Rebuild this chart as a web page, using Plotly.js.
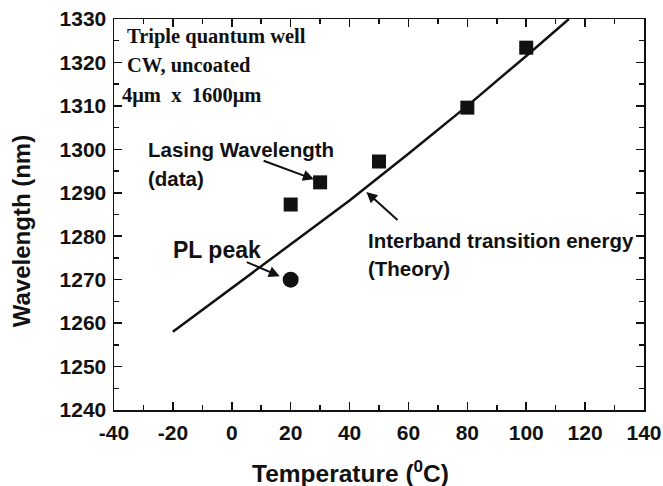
<!DOCTYPE html>
<html>
<head>
<meta charset="utf-8">
<script src="https://cdn.plot.ly/plotly-3.0.1.min.js"></script>
<style>html,body{margin:0;padding:0;background:#fff;}#chart{width:663px;height:486px;}</style>
</head>
<body>
<div id="chart"></div>
<script>
// Data
var lasingT = [20, 30, 50, 80, 100];
var lasingWL = [1287.3, 1292.4, 1297.2, 1309.6, 1323.4];
var plT = [20];
var plWL = [1270];
var theoryT = [-20, 0, 20, 40, 60, 80, 100, 114.5];
var theoryWL = [1258, 1268, 1278, 1288.2, 1299, 1310, 1321.5, 1330];
var xTickVals = [-40, -20, 0, 20, 40, 60, 80, 100, 120, 140];
var xTickText = ['-40', '-20', '0', '20', '40', '60', '80', '100', '120', '140'];
var yTickVals = [1240, 1250, 1260, 1270, 1280, 1290, 1300, 1310, 1320, 1330];

var sans = 'Liberation Sans, Arial, sans-serif';
var serif = 'Liberation Serif, Times New Roman, serif';

var traces = [
  {x: theoryT, y: theoryWL, mode: 'lines', line: {color: '#111', width: 2.5}, hoverinfo: 'skip', cliponaxis: true},
  {x: lasingT, y: lasingWL, mode: 'markers', marker: {symbol: 'square', size: 14, color: '#111'}},
  {x: plT, y: plWL, mode: 'markers', marker: {symbol: 'circle', size: 16, color: '#111'}}
];

function txt(x, y, t, size, fam) {
  return {x: x, y: y, xref: 'x', yref: 'y', text: t, showarrow: false, xanchor: 'left', yanchor: 'middle',
    font: {family: fam || sans, size: size || 20, color: '#111', weight: 'bold'}};
}
function arr(x0, y0, x1, y1) {
  return {x: x1, y: y1, ax: x0, ay: y0, xref: 'x', yref: 'y', axref: 'x', ayref: 'y', text: '',
    showarrow: true, arrowhead: 2, arrowsize: 1.1, arrowwidth: 2, arrowcolor: '#111', standoff: 0};
}

var annotations = [
  txt(-36.3, 1325.9, 'Triple quantum well', 20.5, serif),
  txt(-36.3, 1319.3, 'CW, uncoated', 20.5, serif),
  txt(-38.0, 1312.4, '4\u03bcm  x  1600\u03bcm', 20.5, serif),
  txt(-29.2, 1299.9, 'Lasing Wavelength', 20.5),
  txt(-29.2, 1293.3, '(data)', 20.5),
  txt(-20.8, 1276.8, 'PL peak', 23),
  txt(45.5, 1279.1, 'Interband transition energy', 20.5),
  txt(45.5, 1272.6, '(Theory)', 20.5),
  arr(10.3, 1297.5, 27.9, 1293.1),
  arr(56.8, 1283.4, 45.7, 1290.2),
  arr(4.6, 1274.2, 16.3, 1270.8),
  {x: 0.4466, y: -0.157, xref: 'paper', yref: 'paper', text: 'Temperature (<sup>0</sup>C)', showarrow: false,
    xanchor: 'center', yanchor: 'middle', font: {family: sans, size: 24.5, color: '#111', weight: 'bold'}},
  {x: -0.174, y: 0.4566, xref: 'paper', yref: 'paper', text: 'Wavelength (nm)', showarrow: false, textangle: -90,
    xanchor: 'center', yanchor: 'middle', font: {family: sans, size: 24, color: '#111', weight: 'bold'}}
];

var layout = {
  width: 663, height: 486,
  margin: {l: 114, r: 19, t: 19, b: 76, pad: 0},
  paper_bgcolor: '#fff', plot_bgcolor: '#fff',
  showlegend: false,
  xaxis: {
    range: [-40, 140], tickvals: xTickVals, ticktext: xTickText, ticks: 'inside', ticklen: 8, tickwidth: 1.5, tickcolor: '#111',
    showline: true, linecolor: '#111', linewidth: 1.5, mirror: 'ticks', showgrid: false, zeroline: false,
    ticklabelstandoff: 3,
    tickfont: {family: sans, size: 21, color: '#111', weight: 'bold'},
    minor: {dtick: 10, ticks: 'inside', ticklen: 5, tickwidth: 1.5, tickcolor: '#111', showgrid: false}
  },
  yaxis: {
    range: [1240, 1330], tickvals: yTickVals, ticks: 'inside', ticklen: 8, tickwidth: 1.5, tickcolor: '#111',
    showline: true, linecolor: '#111', linewidth: 1.5, mirror: 'ticks', showgrid: false, zeroline: false,
    ticklabelstandoff: 2,
    tickfont: {family: sans, size: 21, color: '#111', weight: 'bold'},
    minor: {dtick: 5, ticks: 'inside', ticklen: 5, tickwidth: 1.5, tickcolor: '#111', showgrid: false}
  },
  annotations: annotations
};

Plotly.newPlot('chart', traces, layout, {staticPlot: true});
</script>
</body>
</html>
